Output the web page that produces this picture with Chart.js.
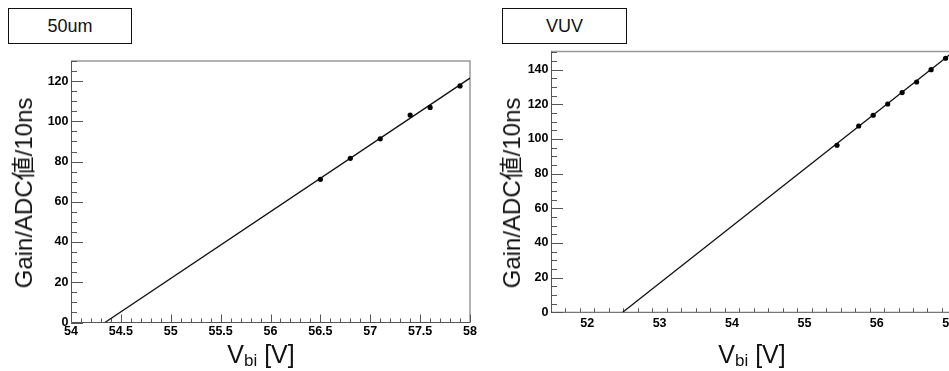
<!DOCTYPE html>
<html>
<head>
<meta charset="utf-8">
<script src="https://cdn.jsdelivr.net/npm/chart.js@4/dist/chart.umd.min.js"></script>
<style>
  html, body { margin:0; padding:0; background:#fff; width:949px; height:371px; overflow:hidden; }
  body { position:relative; font-family:"Liberation Sans", "Noto Sans CJK JP", sans-serif; }
  canvas { position:absolute; top:0; }
  .box { position:absolute; box-sizing:border-box; border:1.5px solid #111; display:flex; align-items:center; justify-content:center; font-size:18px; color:#111; }
  .ytitle { position:absolute; transform:translate(-50%,-50%) rotate(-90deg); white-space:nowrap; font-size:24px; line-height:1; color:#111; }
  .xtitle { position:absolute; transform:translateX(-50%); white-space:nowrap; font-size:25px; line-height:1; color:#111; }
  .xtitle span { font-size:17px; position:relative; top:3px; }
</style>
</head>
<body>
<div class="box" style="left:8px;top:8px;width:124px;height:36px;">50um</div>
<div class="box" style="left:502px;top:8px;width:125px;height:36px;">VUV</div>
<canvas id="c1" width="480" height="371" style="left:0px;"></canvas>
<canvas id="c2" width="520" height="371" style="left:475px;"></canvas>
<div class="ytitle" style="left:24px;top:193px;">Gain/ADC値/10ns</div>
<div class="ytitle" style="left:512px;top:193px;">Gain/ADC値/10ns</div>
<div class="xtitle" style="left:261px;top:342px;">V<span>bi</span> [V]</div>
<div class="xtitle" style="left:752px;top:342px;">V<span>bi</span> [V]</div>
<script>
// ---- data: 50um panel ----
const leftVbi  = [56.5, 56.8, 57.1, 57.4, 57.6, 57.9];
const leftGain = [71.2, 81.6, 91.3, 103.1, 106.9, 117.6];
const leftFitVbi  = [54.34, 58.0];
const leftFitGain = [0, 121.5];
const leftXTicks = [54, 54.5, 55, 55.5, 56, 56.5, 57, 57.5, 58];
const leftYTicks = [0, 20, 40, 60, 80, 100, 120];

// ---- data: VUV panel ----
const rightVbi  = [55.45, 55.75, 55.95, 56.15, 56.35, 56.55, 56.75, 56.95];
const rightGain = [96.4, 107.5, 113.7, 120.2, 126.8, 132.9, 140.0, 146.6];
const rightFitVbi  = [52.49, 57.2];
const rightFitGain = [0, 155.0];
const rightXTicks = [52, 53, 54, 55, 56, 57];
const rightYTicks = [0, 20, 40, 60, 80, 100, 120, 140];

const pts = (xs, ys) => xs.map((x, i) => ({x, y: ys[i]}));

const rootFrame = {
  id: 'rootFrame',
  beforeDatasetsDraw(chart, args, o) {
    const {ctx, chartArea: a, scales: {x, y}} = chart;
    ctx.save();
    ctx.strokeStyle = '#9a9a9a'; ctx.lineWidth = 1.5;
    ctx.beginPath(); ctx.moveTo(a.left, a.top); ctx.lineTo(a.right, a.top); ctx.lineTo(a.right, a.bottom); ctx.stroke();
    ctx.strokeStyle = '#555'; ctx.lineWidth = 1;
    ctx.beginPath(); ctx.moveTo(a.left + 0.5, a.top); ctx.lineTo(a.left + 0.5, a.bottom); ctx.lineTo(a.right, a.bottom); ctx.stroke();
    ctx.beginPath();
    const nx = Math.round((x.max - x.min) / o.xMinor);
    for (let i = 0; i <= nx; i++) {
      const v = x.min + i * o.xMinor;
      const isMajor = o.xMajor.some(m => Math.abs(m - v) < 1e-6);
      const px = Math.round(x.getPixelForValue(v)) + 0.5;
      ctx.moveTo(px, a.bottom); ctx.lineTo(px, a.bottom - (isMajor ? o.xLen : o.xLen / 2));
    }
    const ny = Math.floor((y.max - y.min) / o.yMinor + 1e-6);
    for (let i = 0; i <= ny; i++) {
      const v = y.min + i * o.yMinor;
      const isMajor = o.yMajor.some(m => Math.abs(m - v) < 1e-6);
      const py = Math.round(y.getPixelForValue(v)) + 0.5;
      ctx.moveTo(a.left, py); ctx.lineTo(a.left + (isMajor ? o.yLen : o.yLen / 2), py);
    }
    ctx.stroke();
    ctx.restore();
  }
};

function makeChart(id, cfg) {
  const tickFont = {family: '"Liberation Sans", Arial, sans-serif', size: 12.5, weight: 'bold'};
  return new Chart(document.getElementById(id), {
    type: 'scatter',
    data: {
      datasets: [
        {data: pts(cfg.vbi, cfg.gain), pointRadius: 2.6, pointBackgroundColor: '#000', pointBorderColor: '#000', borderWidth: 0},
        {data: pts(cfg.fitVbi, cfg.fitGain), showLine: true, pointRadius: 0, borderColor: '#111', borderWidth: 1.3}
      ]
    },
    options: {
      responsive: false, animation: false, devicePixelRatio: 1,
      layout: {padding: {top: cfg.padTop, right: cfg.padRight, bottom: cfg.padBottom, left: 0}},
      plugins: {legend: {display: false}, tooltip: {enabled: false}, title: {display: false},
        rootFrame: {xMajor: cfg.xTicks, yMajor: cfg.yTicks, xMinor: cfg.xMinor, yMinor: 5, xLen: 8, yLen: 12}},
      scales: {
        x: {type: 'linear', min: cfg.xMin, max: cfg.xMax,
            grid: {display: false, drawTicks: false}, border: {display: false},
            ticks: {font: tickFont, color: '#000', padding: cfg.xPad, maxRotation: 0, autoSkip: false,
                    callback: v => String(v)},
            afterBuildTicks: s => { s.ticks = cfg.xTicks.map(v => ({value: v})); },
            afterFit: s => { s.height = 20; }},
        y: {type: 'linear', min: 0, max: cfg.yMax,
            grid: {display: false, drawTicks: false}, border: {display: false},
            ticks: {font: tickFont, color: '#000', padding: 2.5, autoSkip: false,
                    callback: v => String(v)},
            afterBuildTicks: s => { s.ticks = cfg.yTicks.map(v => ({value: v})); },
            afterFit: s => { s.width = cfg.yWidth; }}
      }
    },
    plugins: [rootFrame]
  });
}

makeChart('c1', {vbi: leftVbi, gain: leftGain, fitVbi: leftFitVbi, fitGain: leftFitGain,
  xTicks: leftXTicks, yTicks: leftYTicks, xMin: 54, xMax: 58, yMax: 130, xMinor: 0.1,
  padTop: 61, padRight: 10, padBottom: 28.5, yWidth: 71, xPad: 2});
makeChart('c2', {vbi: rightVbi, gain: rightGain, fitVbi: rightFitVbi, fitGain: rightFitGain,
  xTicks: rightXTicks, yTicks: rightYTicks, xMin: 51.5, xMax: 57.5, yMax: 150.5, xMinor: 0.2,
  padTop: 51.5, padRight: 9.6, padBottom: 38.7, yWidth: 76, xPad: 4});
</script>
</body>
</html>
